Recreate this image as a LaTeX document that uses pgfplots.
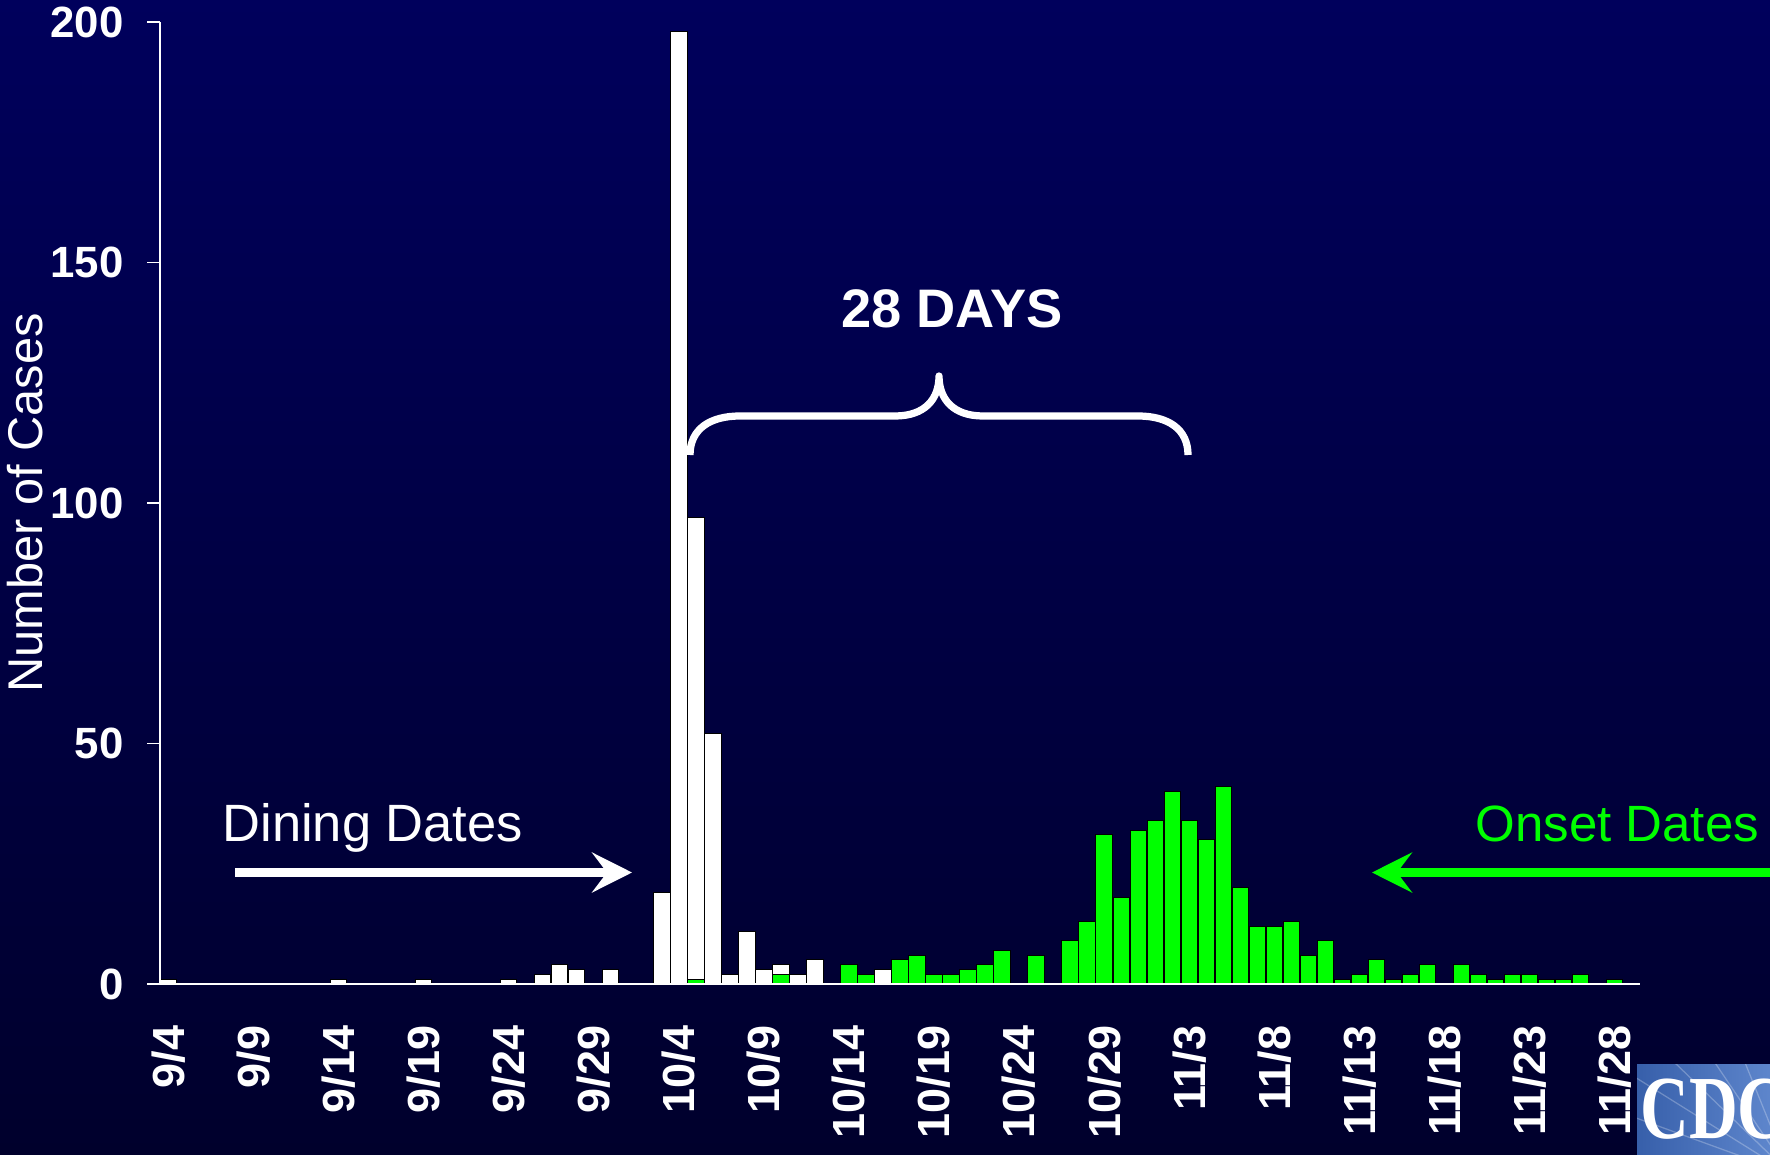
\documentclass[border=0pt]{standalone}
\usepackage{pgfplots}
\pgfplotsset{compat=1.18}
\usepackage{pgfplotstable}
\usepackage{fontspec}
\setmainfont{Liberation Sans}
\newfontfamily\logofont{Liberation Serif}
\usetikzlibrary{arrows.meta}

\definecolor{bgtop}{RGB}{0,0,92}
\definecolor{bgbot}{RGB}{0,0,44}
\definecolor{onset}{RGB}{0,255,0}
\definecolor{logoL}{RGB}{55,95,170}
\definecolor{logoR}{RGB}{95,135,205}

% day index: 0 = 9/4, 30 = 10/4, 85 = 11/28
\pgfplotstableread{
day cases
0 1
10 1
15 1
20 1
22 2
23 4
24 3
26 3
29 19
30 198
31 97
32 52
33 2
34 11
35 3
36 4
37 2
38 5
42 3
}\dining

\pgfplotstableread{
day cases
31 1
36 2
40 4
41 2
43 5
44 6
45 2
46 2
47 3
48 4
49 7
51 6
53 9
54 13
55 31
56 18
57 32
58 34
59 40
60 34
61 30
62 41
63 20
64 12
65 12
66 13
67 6
68 9
69 1
70 2
71 5
72 1
73 2
74 4
76 4
77 2
78 1
79 2
80 2
81 1
82 1
83 2
85 1
}\onset

\begin{document}
\begin{tikzpicture}[x=0.4pt,y=0.4pt]
\useasboundingbox (0,0) rectangle (1770,1154);
\clip (0,0) rectangle (1770,1154);
\shade[top color=bgtop,bottom color=bgbot] (0,0) rectangle (1770,1154);

\begin{axis}[
  at={(64pt,68pt)}, anchor=south west,
  scale only axis, width=592pt, height=384.8pt,
  xmin=-0.5, xmax=86.5, ymin=0, ymax=200,
  axis lines=left,
  axis on top,
  axis line style={white, line width=0.6pt, -},
  ytick={0,50,...,200},
  xtick={0,5,...,85},
  xticklabels={9/4,9/9,9/14,9/19,9/24,9/29,10/4,10/9,10/14,10/19,10/24,10/29,11/3,11/8,11/13,11/18,11/23,11/28},
  tick align=outside,
  major tick length=5.2pt,
  ytick style={white, line width=0.6pt},
  xtick style={draw=none},
  /pgf/number format/assume math mode=true,
  tick label style={white, font=\fontsize{17.5}{20}\selectfont\bfseries},
  yticklabel style={xshift=-5.9pt},
  xticklabel style={font=\fontsize{18}{20}\selectfont\bfseries, yshift=-8pt, rotate=90, anchor=east},
]
\addplot[ybar, bar width=0.96, bar shift=0pt, fill=white, draw=black, line width=0.4pt]
  table[x=day,y=cases] {\dining};
\addplot[ybar, bar width=0.96, bar shift=0pt, fill=onset, draw=black, line width=0.4pt]
  table[x=day,y=cases] {\onset};
\end{axis}

% labels
\node[white, font=\fontsize{19.5}{22}\selectfont, rotate=90, anchor=base] at (43,651) {Number of Cases};
\node[white, font=\fontsize{21.7}{24}\selectfont\bfseries, anchor=base] at (952,826) {28 DAYS};
\draw[white, line width=2.9pt, line join=round]
  (690,699) .. controls (690,725) and (710,738) .. (740,738) -- (895,738)
  .. controls (925,738) and (939,755) .. (939,778)
  .. controls (939,755) and (953,738) .. (983,738) -- (1138,738)
  .. controls (1168,738) and (1188,725) .. (1188,699);

\node[white, font=\fontsize{21}{24}\selectfont, anchor=base west, inner sep=0] at (222,313) {Dining Dates};
\node[onset, font=\fontsize{20.4}{24}\selectfont, anchor=base west, inner sep=0] at (1475,313) {Onset Dates};
\draw[white, line width=3.6pt, -{Stealth[length=16pt, width=16pt, inset=6pt]}] (235,281.5) -- (632,281.5);
\draw[onset, line width=3.6pt, -{Stealth[length=16pt, width=16pt, inset=6pt]}] (1775,281.5) -- (1372,281.5);

% logo corner
\begin{scope}
\clip (1637,0) rectangle (1775,90);
\shade[left color=logoL, right color=logoR] (1637,0) rectangle (1775,90);
\foreach \a in {100,112,124,136,148,160} {
  \draw[white, opacity=0.25, line width=0.5pt] (1790,-20) -- ++(\a:260);
}
\end{scope}
\node[white, font=\logofont\fontsize{36}{40}\selectfont\bfseries, anchor=base west, inner sep=0, xscale=0.75] at (1640,16) {CDC};
\end{tikzpicture}
\end{document}
